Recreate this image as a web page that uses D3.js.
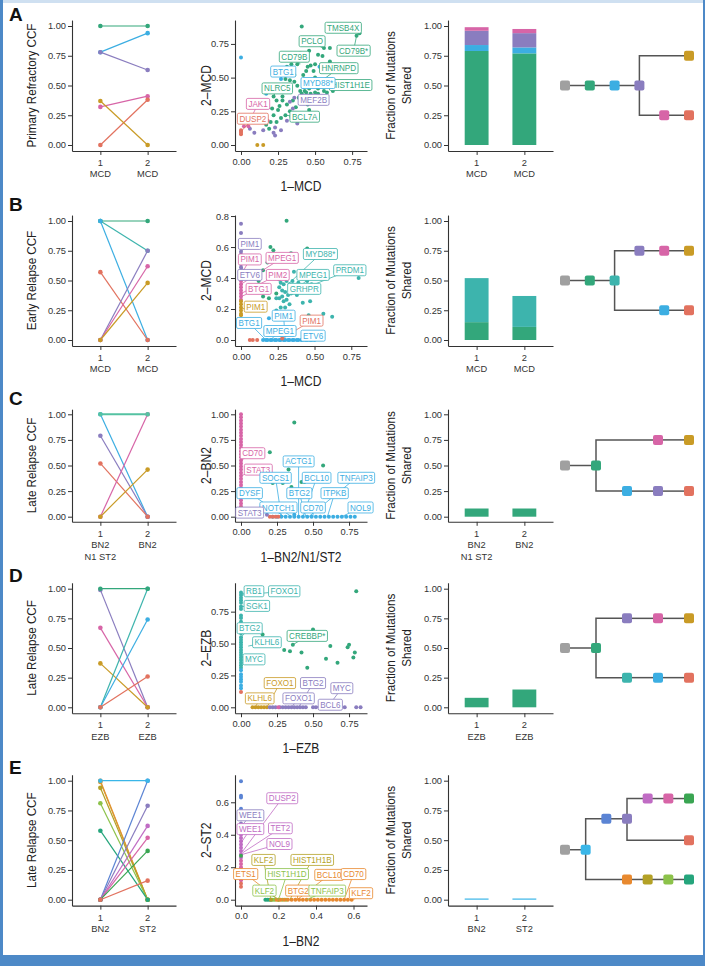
<!DOCTYPE html>
<html><head><meta charset="utf-8">
<script src="https://cdn.jsdelivr.net/npm/d3@7"></script>
<style>body{margin:0;background:#fff;overflow:hidden} text{font-family:"Liberation Sans",Arial,sans-serif;}</style>
</head><body><svg id="c" width="705" height="966"></svg>
<script>
// ---------------- DATA ----------------
const panelLetters = ["A","B","C","D","E"];
const slopeTitles = ["Primary Refractory CCF","Early Relapse CCF","Late Relapse CCF","Late Relapse CCF","Late Relapse CCF"];
const sample1Labels = [["1","MCD"],["1","MCD"],["1","BN2","N1 ST2"],["1","EZB"],["1","BN2"]];
const sample2Labels = [["2","MCD"],["2","MCD"],["2","BN2"],["2","EZB"],["2","ST2"]];
const scatterXTitles = ["1–MCD","1–MCD","1–BN2/N1/ST2","1–EZB","1–BN2"];
const scatterYTitles = ["2–MCD","2–MCD","2–BN2","2–EZB","2–ST2"];
const barTitle = ["Fraction of Mutations","Shared"];
const ccfTicks = [0,0.25,0.5,0.75,1];
const scatterXTicks = [[0,.25,.5,.75],[0,.25,.5,.75],[0,.25,.5,.75],[0,.25,.5,.75],[0,.2,.4,.6]];
const scatterYTicks = [[0,.25,.5,.75],[0,.2,.4,.6,.8],[0,.25,.5,.75,1],[0,.25,.5,.75],[0,.2,.4,.6]];
const scatterXFmt = [".2f",".2f",".2f",".2f",".1f"];
const scatterYFmt = [".2f",".1f",".2f",".2f",".1f"];
const scatterXMax = [0.81,0.816,0.833,0.833,0.64];
const scatterYMax = [0.883,0.768,1.0,0.93,0.733];

// clone CCF in sample 1 and 2: [clone, ccf1, ccf2]
const slopeA = [["G",1,1],["B",0.78,0.94],["P",0.78,0.63],["K",0.32,0.41],["R",0,0.38],["Y",0.37,0]];
const slopeB = [["G",1,1],["T",1,0.75],["B",1,0],["R",0.57,0],["P",0,0.75],["K",0,0.62],["Y",0,0.48]];
const slopeC = [["B",1,0],["P",0.79,0],["R",0.52,0],["K",0,1],["Y",0,0.46],["Q",1,1]];
const slopeD = [["P",0.99,0],["K",0.67,0],["Y",0.37,0],["T",0,1],["B",0,0.74],["R",0,0.26],["G",1,1]];
const slopeE = [["O",1,0],["W",0.99,0],["V",0.94,0],["N",0.81,0],["U",0.58,0],["L",0,1],["P",0,0.79],["M",0,0.62],["K",0,0.52],["H",0,0.41],["R",0,0.16],["C",1,1]];

// stacked bars: per sample [clone, fraction]
const barsA = [[["G",0.79],["B",0.05],["P",0.12],["K",0.03]],[["G",0.77],["B",0.05],["P",0.12],["K",0.035]]];
const barsB = [[["G",0.15],["T",0.37]],[["G",0.11],["T",0.26]]];
const barsC = [[["G",0.08]],[["G",0.08]]];
const barsD = [[["G",0.08]],[["G",0.15]]];
const barsE = [[["C",0]],[["C",0]]];

// tree nodes: [clone, parentIndex, level, ccf-axis position]
const treeA = [["S",-1,0,.5],["G",0,1,.5],["B",1,2,.5],["P",2,3,.5],["Y",3,5,.75],["K",3,4,.25],["R",5,5,.25]];
const treeB = [["S",-1,0,.5],["G",0,1,.5],["T",1,2,.5],["P",2,3,.75],["K",3,4,.75],["Y",4,5,.75],["B",2,4,.25],["R",6,5,.25]];
const treeC = [["S",-1,0,.5],["G",0,1,.5],["K",1,3,.75],["Y",2,4,.75],["B",1,2,.25],["P",4,3,.25],["R",5,4,.25]];
const treeD = [["S",-1,0,.5],["G",0,1,.5],["P",1,2,.75],["K",2,3,.75],["Y",3,4,.75],["T",1,2,.25],["B",5,3,.25],["R",6,4,.25]];
const treeE = [["S",-1,0,.42],["C",0,1,.42],["L",1,2,.68],["P",2,3,.68],["M",3,4,.85],["K",4,5,.85],["H",5,6,.85],["R",3,6,.5],["O",1,3,.17],["V",8,4,.17],["N",9,5,.17],["U",10,6,.17]];

// scatter points: [ccf sample1, ccf sample2, clone]
const scatterA = [
 [0.41,0.88,"G"],[0.78,0.81,"G"],[0.80,0.83,"G"],[0.56,0.72,"G"],[0.60,0.72,"G"],[0.55,0.66,"G"],[0.52,0.67,"G"],[0.40,0.68,"G"],
 [0.35,0.63,"G"],[0.34,0.60,"G"],[0.38,0.60,"G"],[0.45,0.58,"G"],[0.47,0.59,"G"],[0.49,0.55,"G"],[0.44,0.55,"G"],[0.42,0.52,"G"],
 [0.50,0.50,"G"],[0.55,0.48,"G"],[0.60,0.45,"G"],[0.62,0.40,"G"],[0.58,0.39,"G"],[0.52,0.42,"G"],[0.48,0.45,"G"],[0.46,0.42,"G"],
 [0.43,0.40,"G"],[0.41,0.38,"G"],[0.38,0.44,"G"],[0.36,0.47,"G"],[0.33,0.48,"G"],[0.30,0.49,"G"],[0.27,0.44,"G"],[0.25,0.41,"G"],
 [0.22,0.36,"G"],[0.28,0.33,"G"],[0.31,0.30,"G"],[0.35,0.33,"G"],[0.37,0.28,"G"],[0.33,0.25,"G"],[0.30,0.22,"G"],[0.27,0.20,"G"],
 [0.24,0.17,"G"],[0.20,0.17,"G"],[0.17,0.15,"G"],[0.22,0.22,"G"],[0.25,0.26,"G"],[0.19,0.12,"G"],[0.34,0.21,"G"],[0.38,0.18,"G"],
 [0.42,0.22,"G"],[0.46,0.26,"G"],[0.45,0.30,"G"],[0.49,0.34,"G"],[0.52,0.38,"G"],[0.56,0.40,"G"],[0.50,0.60,"G"],[0.43,0.64,"G"],
 [0.46,0.70,"G"],[0.60,0.62,"G"],[0.63,0.58,"G"],[0.28,0.36,"G"],[0.31,0.40,"G"],[0.39,0.35,"G"],[0.26,0.29,"G"],[0.21,0.27,"G"],
 [0.29,0.56,"G"],[0.31,0.58,"G"],[0.36,0.52,"G"],[0.40,0.40,"G"],[0.44,0.39,"G"],[0.47,0.38,"G"],[0.50,0.39,"G"],[0.24,0.33,"G"],
 [0,0.65,"B"],[0.17,0.38,"B"],[0.27,0.49,"B"],[0.42,0.43,"B"],[0.53,0.58,"B"],[0.26,0.44,"B"],
 [0.06,0.12,"P"],[0.09,0.09,"P"],[0.15,0.11,"P"],[0.22,0.09,"P"],[0.23,0.13,"P"],[0.27,0.11,"P"],[0.23,0.07,"P"],[0.31,0.18,"P"],
 [0.38,0.16,"P"],[0.35,0.27,"P"],[0.33,0.32,"P"],[0.45,0.36,"P"],[0.36,0.35,"P"],
 [0.02,0.14,"K"],[0.05,0.14,"K"],[0.09,0.17,"K"],[0.15,0.20,"K"],[0.18,0.18,"K"],
 [0,0.08,"R"],[0,0.10,"R"],[0,0.11,"R"],[0,0.09,"R"],
 [0.11,0,"Y"],[0.15,0,"Y"]
];
const scatterB = [
 [0,0.75,"P"],[0,0.69,"P"],[0,0.60,"P"],[0,0.57,"P"],[0,0.55,"P"],[0,0.53,"P"],[0,0.51,"P"],[0,0.49,"P"],[0,0.47,"P"],[0,0.45,"P"],
 [0,0.44,"K"],[0,0.42,"K"],[0,0.40,"K"],[0,0.38,"K"],[0,0.36,"K"],[0,0.34,"K"],[0,0.32,"K"],[0,0.30,"K"],[0,0.28,"K"],[0,0.26,"K"],
 [0,0.25,"Y"],[0,0.23,"Y"],[0,0.21,"Y"],[0,0.19,"Y"],[0,0.17,"Y"],[0,0.16,"Y"],
 [0.31,0.77,"G"],[0.20,0.60,"G"],[0.22,0.58,"G"],[0.34,0.56,"G"],[0.45,0.59,"G"],[0.18,0.50,"G"],[0.15,0.45,"G"],[0.12,0.38,"G"],
 [0.15,0.28,"G"],[0.19,0.27,"G"],[0.24,0.30,"G"],
 [0.26,0.39,"T"],[0.27,0.37,"T"],[0.29,0.36,"T"],[0.31,0.38,"T"],[0.33,0.36,"T"],[0.35,0.35,"T"],[0.37,0.33,"T"],[0.26,0.34,"T"],
 [0.28,0.32,"T"],[0.30,0.31,"T"],[0.32,0.29,"T"],[0.34,0.30,"T"],[0.36,0.31,"T"],[0.38,0.29,"T"],[0.40,0.33,"T"],[0.42,0.31,"T"],
 [0.44,0.34,"T"],[0.45,0.38,"T"],[0.48,0.36,"T"],[0.24,0.27,"T"],[0.26,0.27,"T"],[0.28,0.28,"T"],[0.31,0.26,"T"],[0.29,0.25,"T"],
 [0.35,0.38,"T"],[0.41,0.40,"T"],[0.39,0.37,"T"],[0.28,0.43,"T"],[0.36,0.44,"T"],[0.27,0.21,"T"],[0.30,0.21,"T"],[0.24,0.19,"T"],
 [0.42,0.24,"T"],[0.46,0.16,"T"],[0.56,0.17,"T"],[0.62,0.15,"T"],[0.80,0.40,"T"],[0.47,0.25,"T"],[0.33,0.23,"T"],
 [0.15,0,"B"],[0.17,0,"B"],[0.18,0,"B"],[0.20,0,"B"],[0.21,0,"B"],[0.23,0,"B"],[0.24,0,"B"],[0.26,0,"B"],[0.27,0,"B"],[0.29,0,"B"],
 [0.30,0,"B"],[0.32,0,"B"],[0.33,0,"B"],[0.35,0,"B"],[0.36,0,"B"],[0.38,0,"B"],[0.39,0,"B"],[0.41,0,"B"],[0.42,0,"B"],[0.44,0,"B"],
 [0.45,0,"B"],[0.47,0,"B"],[0.48,0,"B"],[0.50,0,"B"],[0.19,0.14,"B"],
 [0.06,0,"R"],[0.08,0,"R"],[0.11,0,"R"],[0.28,0.01,"R"]
];
const scatterC = [
 [0,1.00,"K"],[0,0.97,"K"],[0,0.94,"K"],[0,0.91,"K"],[0,0.88,"K"],[0,0.85,"K"],[0,0.82,"K"],[0,0.79,"K"],[0,0.76,"K"],[0,0.73,"K"],
 [0,0.70,"K"],[0,0.67,"K"],[0,0.64,"K"],[0,0.61,"K"],[0,0.58,"K"],[0,0.55,"K"],[0,0.52,"K"],[0,0.49,"K"],[0,0.46,"K"],[0,0.43,"K"],
 [0,0.40,"K"],[0,0.37,"K"],[0,0.34,"K"],[0,0.31,"K"],[0,0.28,"K"],[0,0.25,"K"],[0,0.22,"K"],[0,0.19,"K"],[0,0.16,"K"],[0,0.13,"K"],[0,0.10,"K"],
 [0,0.08,"Y"],[0,0.06,"Y"],[0,0.04,"Y"],[0,0.02,"Y"],
 [0.37,0.92,"G"],[0.20,0.63,"G"],[0.57,0.50,"G"],[0.33,0.46,"G"],[0.22,0.33,"G"],[0.29,0.33,"G"],[0.35,0.29,"G"],[0.42,0.34,"G"],[0.44,0.34,"G"],
 [0.22,0,"B"],[0.25,0,"B"],[0.28,0,"B"],[0.31,0,"B"],[0.34,0,"B"],[0.37,0,"B"],[0.40,0,"B"],[0.43,0,"B"],[0.46,0,"B"],[0.49,0,"B"],
 [0.52,0,"B"],[0.55,0,"B"],[0.58,0,"B"],[0.61,0,"B"],[0.64,0,"B"],[0.67,0,"B"],[0.70,0,"B"],[0.73,0,"B"],[0.76,0,"B"],[0.79,0,"B"],[0.37,0.02,"B"],
 [0.20,0,"R"],[0.22,0,"R"],[0.24,0,"R"],[0.26,0,"R"],
 [0.10,0.02,"P"],[0.14,0.02,"P"],[0.18,0.02,"P"]
];
const scatterD = [
 [0,0.90,"T"],[0,0.88,"T"],[0,0.86,"T"],[0,0.84,"T"],[0,0.82,"T"],[0,0.79,"T"],[0,0.77,"T"],[0,0.72,"T"],[0,0.70,"T"],[0,0.67,"T"],
 [0,0.62,"T"],[0,0.60,"T"],[0,0.58,"T"],[0,0.55,"T"],[0,0.53,"T"],[0,0.51,"T"],[0,0.49,"T"],[0,0.47,"T"],[0,0.45,"T"],[0,0.43,"T"],
 [0,0.41,"T"],[0,0.39,"T"],[0,0.37,"T"],[0,0.35,"T"],[0,0.33,"T"],[0,0.31,"T"],
 [0,0.29,"B"],[0,0.26,"B"],[0,0.24,"B"],[0,0.22,"B"],[0,0.20,"B"],[0,0.17,"B"],[0,0.15,"B"],[0,0.12,"R"],
 [0.15,0.57,"G"],[0.30,0.45,"G"],[0.34,0.44,"G"],[0.36,0.49,"G"],[0.42,0.43,"G"],[0.46,0.31,"G"],[0.50,0.61,"G"],[0.59,0.38,"G"],
 [0.62,0.48,"G"],[0.67,0.35,"G"],[0.74,0.47,"G"],[0.75,0.49,"G"],[0.78,0.39,"G"],[0.79,0.43,"G"],[0.80,0.91,"G"],
 [0.08,0,"Y"],[0.10,0,"Y"],[0.12,0,"Y"],[0.14,0,"Y"],[0.16,0,"Y"],[0.18,0,"Y"],
 [0.20,0,"P"],[0.22,0,"P"],[0.24,0,"P"],[0.27,0,"P"],[0.29,0,"P"],[0.31,0,"P"],[0.33,0,"P"],[0.35,0,"P"],[0.37,0,"P"],[0.39,0,"P"],
 [0.41,0,"P"],[0.43,0,"P"],[0.45,0,"P"],[0.50,0,"P"],[0.52,0,"P"],[0.55,0,"P"],[0.57,0,"P"],[0.60,0,"P"],[0.65,0,"P"],[0.68,0,"P"],
 [0.72,0,"P"],[0.80,0,"P"],[0.83,0,"P"],[0.26,0,"K"]
];
const scatterE = [
 [0,0.73,"L"],[0,0.64,"L"],[0,0.63,"L"],[0,0.56,"L"],
 [0,0.50,"P"],[0,0.47,"P"],[0,0.45,"P"],
 [0,0.43,"M"],[0,0.40,"M"],[0,0.38,"M"],[0,0.36,"M"],[0,0.34,"M"],[0,0.32,"M"],[0,0.30,"M"],[0,0.28,"M"],[0,0.26,"M"],
 [0,0.24,"K"],[0,0.22,"K"],[0,0.20,"K"],[0,0.18,"K"],[0,0.16,"K"],[0,0.14,"K"],[0,0.12,"K"],
 [0,0.27,"H"],[0,0.10,"R"],[0,0.08,"R"],
 [0.13,0,"U"],[0.14,0,"U"],[0.15,0,"U"],[0.16,0,"U"],
 [0.17,0,"N"],[0.18,0,"N"],[0.20,0,"N"],[0.22,0,"N"],[0.24,0,"N"],
 [0.16,0,"V"],[0.20,0,"V"],
 [0.19,0,"O"],[0.21,0,"O"],[0.23,0,"O"],[0.25,0,"O"],[0.27,0,"O"],[0.29,0,"O"],[0.31,0,"O"],[0.33,0,"O"],[0.35,0,"O"],[0.37,0,"O"],
 [0.39,0,"O"],[0.41,0,"O"],[0.43,0,"O"],[0.45,0,"O"],[0.47,0,"O"],[0.49,0,"O"],[0.51,0,"O"],[0.53,0,"O"],[0.55,0,"O"],[0.57,0,"O"],[0.59,0,"O"]
];

// gene labels: [gene, clone, label x, label y, point x, point y]
const labelsA = [
 ["TMSB4X","G",0.69,0.87,0.80,0.83],["PCLO","G",0.48,0.77,0.55,0.72],["CD79B*","G",0.76,0.70,0.78,0.81],
 ["CD79B","G",0.36,0.655,0.40,0.60],["HNRNPD","G",0.66,0.57,0.56,0.49],["BTG1","B",0.285,0.545,0.27,0.49],
 ["HIST1H1E","G",0.74,0.445,0.52,0.42],["MYD88*","B",0.52,0.46,0.42,0.43],["NLRC5","G",0.245,0.42,0.22,0.36],
 ["MEF2B","P",0.49,0.335,0.45,0.36],["JAK1","K",0.115,0.305,0.04,0.14],["DUSP2","R",0.08,0.195,0,0.10],
 ["BCL7A","G",0.43,0.21,0.30,0.22]
];
const labelsB = [
 ["PIM1","P",0.06,0.62,0,0.57],["PIM1","K",0.06,0.52,0,0.42],["MPEG1","K",0.28,0.53,0,0.36],["ETV6","P",0.06,0.42,0,0.47],
 ["PIM2","K",0.25,0.42,0,0.30],["MYD88*","T",0.54,0.555,0.32,0.36],["MPEG1","T",0.49,0.42,0.38,0.33],["PRDM1","T",0.74,0.45,0.42,0.33],
 ["GRHPR","T",0.43,0.33,0.36,0.31],["BTG1","K",0.12,0.33,0,0.28],["PIM1","Y",0.10,0.215,0,0.20],["PIM1","B",0.29,0.157,0.30,0],
 ["PIM1","R",0.48,0.125,0.28,0.01],["BTG1","B",0.055,0.11,0.17,0],["MPEG1","B",0.265,0.058,0.20,0],["ETV6","B",0.49,0.028,0.40,0]
];
const labelsC = [
 ["CD70","K",0.08,0.62,0,0.55],["STAT3","K",0.12,0.46,0,0.40],["ACTG1","B",0.40,0.54,0.40,0],["SOCS1","B",0.24,0.38,0.28,0],
 ["BCL10","B",0.525,0.38,0.43,0],["TNFAIP3","B",0.80,0.38,0.47,0],["DYSF","B",0.06,0.23,0.30,0],["BTG2","B",0.405,0.23,0.45,0],
 ["ITPKB","B",0.65,0.23,0.60,0],["NOTCH1","B",0.26,0.09,0.35,0],["CD70","B",0.50,0.09,0.50,0],["NOL9","B",0.83,0.09,0.70,0],
 ["STAT3","P",0.06,0.04,0.15,0.02]
];
const labelsD = [
 ["RB1","T",0.09,0.91,0,0.89],["FOXO1","T",0.30,0.91,0,0.88],["SGK1","T",0.11,0.795,0,0.79],["BTG2","T",0.06,0.62,0,0.55],
 ["KLHL6","T",0.18,0.51,0.05,0.48],["MYC","T",0.09,0.376,0,0.40],["CREBBP*","G",0.46,0.56,0.36,0.49],["FOXO1","Y",0.27,0.19,0.18,0],
 ["BTG2","P",0.50,0.19,0.40,0],["MYC","P",0.70,0.15,0.60,0],["KLHL6","Y",0.13,0.07,0.10,0],["FOXO1","P",0.40,0.07,0.35,0],
 ["BCL6","P",0.62,0.02,0.50,0]
];
const labelsE = [
 ["DUSP2","M",0.22,0.625,0.01,0.30],["WEE1","P",0.05,0.52,0,0.45],["WEE1","M",0.05,0.435,0,0.35],["TET2","M",0.21,0.44,0.01,0.29],
 ["NOL9","M",0.205,0.343,0.01,0.28],["KLF2","V",0.12,0.245,0.16,0],["HIST1H1B","V",0.38,0.245,0.26,0],["ETS1","O",0.025,0.158,0.20,0],
 ["HIST1H1D","N",0.245,0.158,0.20,0],["BCL10","O",0.47,0.153,0.30,0],["CD70","O",0.60,0.158,0.55,0],["KLF2","N",0.125,0.056,0.20,0],
 ["BTG2","O",0.305,0.056,0.30,0],["TNFAIP3","N",0.46,0.056,0.35,0],["KLF2","O",0.64,0.04,0.60,0]
];

const rows = [
 {slope:slopeA, scatter:scatterA, labels:labelsA, bars:barsA, tree:treeA},
 {slope:slopeB, scatter:scatterB, labels:labelsB, bars:barsB, tree:treeB},
 {slope:slopeC, scatter:scatterC, labels:labelsC, bars:barsC, tree:treeC},
 {slope:slopeD, scatter:scatterD, labels:labelsD, bars:barsD, tree:treeD},
 {slope:slopeE, scatter:scatterE, labels:labelsE, bars:barsE, tree:treeE}
];

// ---------------- STYLE / LAYOUT ----------------
const palette = {S:"#a0a0a0",G:"#33a77b",Q:"#55c2a2",B:"#3caee2",P:"#8a7dbf",K:"#d765a7",R:"#e2725f",Y:"#c99b26",T:"#3db4ad",
  C:"#3ab6e8",L:"#5b84d4",M:"#c06cc4",O:"#e8892f",W:"#d99a30",V:"#b3a126",N:"#8cc24a",H:"#3aa552",U:"#25a57c"};
const rowY = [[26,145],[221,340],[414.3,516.7],[588.7,707.3],[780.7,899.7]];
const letterY = [21,211,405,582,774];
const FONT = "'Liberation Sans', Arial, sans-serif";
const INK = "#333";

const svg = d3.select("#c");
// frame
svg.append("rect").attr("x",0).attr("y",0).attr("width",705).attr("height",3).attr("fill","#cfe0f1");
svg.append("rect").attr("x",0).attr("y",0).attr("width",3).attr("height",966).attr("fill","#4d89c7");
svg.append("rect").attr("x",703).attr("y",0).attr("width",2).attr("height",966).attr("fill","#4d89c7");
svg.append("rect").attr("x",0).attr("y",955).attr("width",705).attr("height",11).attr("fill","#4d89c7");

function styleAxis(g){
  g.attr("font-family",FONT);
  g.select(".domain").attr("stroke",INK).attr("stroke-width",1.1);
  g.selectAll(".tick line").attr("stroke",INK).attr("stroke-width",1);
  g.selectAll(".tick text").attr("fill",INK).attr("font-size",9.3);
}
function leftAxis(x, scale, ticks, fmt){
  const g = svg.append("g").attr("transform",`translate(${x},0)`)
    .call(d3.axisLeft(scale).tickValues(ticks).tickFormat(d3.format(fmt)).tickSize(4).tickPadding(2).tickSizeOuter(0));
  styleAxis(g); return g;
}
function bottomAxis(y, scale, ticks, fmt){
  const g = svg.append("g").attr("transform",`translate(0,${y})`)
    .call(d3.axisBottom(scale).tickValues(ticks).tickFormat(fmt ? d3.format(fmt) : () => "").tickSize(4).tickPadding(3).tickSizeOuter(0));
  styleAxis(g); return g;
}
function condense(sel, f){
  sel.each(function(){ const L = this.getComputedTextLength(); d3.select(this).attr("textLength", L*f).attr("lengthAdjust","spacingAndGlyphs"); });
}
function title(x, y, txt, rotate, size){
  const t = svg.append("text").attr("transform",`translate(${x},${y})` + (rotate ? " rotate(-90)" : ""))
    .attr("text-anchor","middle").attr("font-size",size||13).attr("fill","#222").attr("font-family",FONT).text(txt);
  condense(t, 0.86); return t;
}
function sampleLabels(x, baseY, lines){
  lines.forEach((s,k) => svg.append("text").attr("x",x).attr("y",baseY+15+k*11.5).attr("text-anchor","middle")
    .attr("font-size",9.3).attr("fill",INK).attr("font-family",FONT).text(s));
}

rows.forEach((r,i) => {
  const [yTop,yBot] = rowY[i];
  const h = yBot - yTop;
  const baseY = yBot + 0.05*h, topY = yTop - 0.05*h;
  const ccf = d3.scaleLinear().domain([-0.05,1.05]).range([baseY, topY]);
  const midY = (baseY+topY)/2;

  svg.append("text").attr("x",9).attr("y",letterY[i]).attr("font-size",19).attr("font-weight","bold")
    .attr("font-family",FONT).attr("fill","#111").text(panelLetters[i]);

  // ---- slope panel
  const sx = d3.scaleLinear().domain([0.4,2.6]).range([72,176]);
  leftAxis(72, ccf, ccfTicks, ".2f");
  bottomAxis(baseY, sx, [1,2], null);
  sampleLabels(sx(1), baseY, sample1Labels[i]);
  sampleLabels(sx(2), baseY, sample2Labels[i]);
  title(31, midY, slopeTitles[i], true, 13.5).attr("dy","0.35em");
  const sg = svg.append("g");
  sg.selectAll("line").data(r.slope).join("line")
    .attr("x1",sx(1)).attr("x2",sx(2)).attr("y1",d=>ccf(d[1])).attr("y2",d=>ccf(d[2]))
    .attr("stroke",d=>palette[d[0]]).attr("stroke-width",d=>d[0]==="Q"?2:1.2);
  r.slope.forEach(d => {
    [[1,d[1]],[2,d[2]]].forEach(p => sg.append("circle").attr("cx",sx(p[0])).attr("cy",ccf(p[1])).attr("r",2.3).attr("fill",palette[d[0]]));
  });

  // ---- scatter panel
  const mx = scatterXMax[i], my = scatterYMax[i];
  const scx = d3.scaleLinear().domain([-0.05*mx, 1.05*mx]).range([235,367]);
  const scy = d3.scaleLinear().domain([-0.05*my, 1.05*my]).range([baseY, topY]);
  leftAxis(235, scy, scatterYTicks[i], scatterYFmt[i]);
  bottomAxis(baseY, scx, scatterXTicks[i], scatterXFmt[i]);
  title(301, baseY+40, scatterXTitles[i], false, 14);
  title(206, midY, scatterYTitles[i], true, 14).attr("dy","0.35em");
  const pg = svg.append("g");
  pg.selectAll("circle").data(r.scatter).join("circle")
    .attr("cx",d=>scx(d[0])).attr("cy",d=>scy(d[1])).attr("r",2).attr("fill",d=>palette[d[2]]);
  const lg = svg.append("g");
  lg.selectAll("line").data(r.labels).join("line")
    .attr("x1",d=>scx(d[4])).attr("y1",d=>scy(d[5])).attr("x2",d=>scx(d[2])).attr("y2",d=>scy(d[3]))
    .attr("stroke",d=>palette[d[1]]).attr("stroke-width",0.8);
  r.labels.forEach(d => {
    const c = palette[d[1]];
    const gg = lg.append("g").attr("transform",`translate(${scx(d[2])},${scy(d[3])})`);
    const rect = gg.append("rect");
    const t = gg.append("text").attr("text-anchor","middle").attr("dy","0.36em").attr("font-size",8.5)
      .attr("fill",c).attr("font-family",FONT).text(d[0]);
    const w = t.node().getComputedTextLength()*0.95;
    t.attr("textLength",w).attr("lengthAdjust","spacingAndGlyphs");
    rect.attr("x",-w/2-2).attr("y",-5.5).attr("width",w+4).attr("height",11).attr("rx",1.5)
      .attr("fill","#fff").attr("stroke",c).attr("stroke-width",0.8);
  });

  // ---- bar panel
  const bx = d3.scaleLinear().domain([0.4,2.6]).range([448,553]);
  leftAxis(448, ccf, ccfTicks, ".2f");
  bottomAxis(baseY, bx, [1,2], null);
  sampleLabels(bx(1), baseY, sample1Labels[i]);
  sampleLabels(bx(2), baseY, sample2Labels[i]);
  title(390, midY, barTitle[0], true, 13.5).attr("dy","0.35em");
  title(406, midY, barTitle[1], true, 13.5).attr("dy","0.35em");
  const bg = svg.append("g");
  r.bars.forEach((stack,k) => {
    let acc = 0;
    stack.forEach(seg => {
      const y0 = ccf(acc), y1 = ccf(acc+seg[1]);
      const hh = Math.max(y0-y1, 1.2);
      bg.append("rect").attr("x",bx(k+0.75)).attr("width",bx(1.5)-bx(1)).attr("y",y0-hh).attr("height",hh)
        .attr("fill",palette[seg[0]]);
      acc += seg[1];
    });
  });

  // ---- tree
  const maxL = d3.max(r.tree, d=>d[2]);
  const tx = d3.scaleLinear().domain([0,maxL]).range([565,689]);
  const tg = svg.append("g");
  r.tree.forEach(n => {
    if (n[1] < 0) return;
    const p = r.tree[n[1]];
    tg.append("path").attr("d",`M${tx(p[2])},${ccf(p[3])}V${ccf(n[3])}H${tx(n[2])}`)
      .attr("fill","none").attr("stroke","#555").attr("stroke-width",1.5);
  });
  const ns = 10;
  r.tree.forEach(n => {
    tg.append("rect").attr("x",tx(n[2])-ns/2).attr("y",ccf(n[3])-ns/2).attr("width",ns).attr("height",ns).attr("rx",2)
      .attr("fill",palette[n[0]]);
  });
});
</script></body></html>
